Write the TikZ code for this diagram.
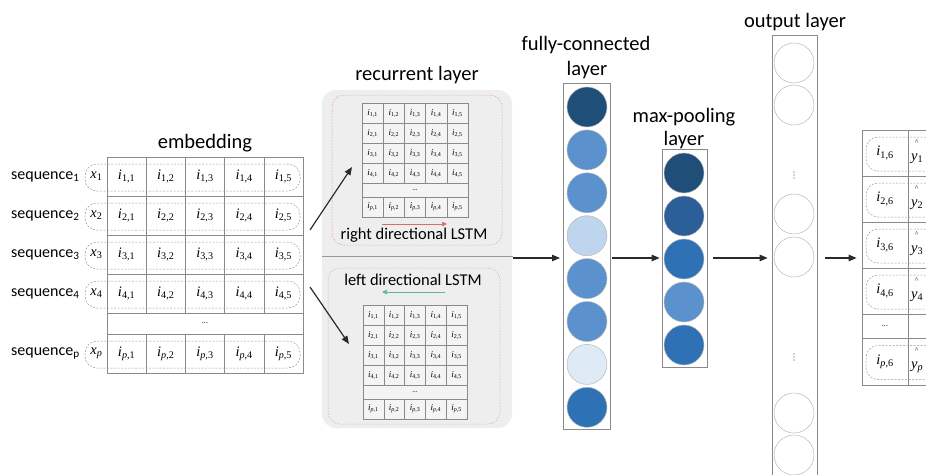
\documentclass[tikz,border=0pt]{standalone}
\usepackage{fontspec}
\setmainfont{Carlito}
\newfontfamily\tms{Liberation Serif}
\usetikzlibrary{arrows.meta}

\definecolor{gridline}{HTML}{8A8A8A}
\definecolor{dashline}{HTML}{9A9A9A}
\definecolor{panelfill}{HTML}{EEEEEE}
\definecolor{cellfill}{HTML}{F4F4F4}
\definecolor{fwdred}{HTML}{E06A6A}
\definecolor{bwdgreen}{HTML}{5FB98A}
\definecolor{arrowdark}{HTML}{2A2A2A}
\definecolor{bA}{HTML}{1F4E79}
\definecolor{bB}{HTML}{2B5F9A}
\definecolor{bC}{HTML}{2E72B5}
\definecolor{bD}{HTML}{5B91CC}
\definecolor{bE}{HTML}{BDD6EE}
\definecolor{bF}{HTML}{DEEAF5}

% italic Times-like labels
\newcommand\ilbl[2]{{\tms\textit{i}\textsubscript{#1,#2}}}
\newcommand\xlbl[1]{{\tms\textit{x}\textsubscript{#1}}}
\newcommand\ylbl[1]{{\tms\textit{y}\textsubscript{#1}}}

% one LSTM matrix: name, left x, top y, cell width
\newcommand\lstmgrid[4]{%
  \foreach \r in {1,2,3,4}{
    \foreach \c in {1,...,5}{
      \node[smallcell, minimum width=#4pt] (#1-\r-\c) at ({#2+(\c-0.5)*#4},{#3+(\r-0.5)*20}) {\ilbl{\r}{\c}};
    }
  }
  \node[smallcell, minimum width={5*#4pt}, minimum height=14pt] (#1-dots) at ({#2+2.5*#4},{#3+87}) {\fontsize{7}{7}\selectfont...};
  \foreach \c in {1,...,5}{
    \node[smallcell, minimum width=#4pt] (#1-p-\c) at ({#2+(\c-0.5)*#4},{#3+104}) {\ilbl{\textit{p}}{\c}};
  }
}

\begin{document}
\begin{tikzpicture}[x=1pt,y=-1pt,
  title/.style={font=\fontsize{20.5}{22}\selectfont, inner sep=0pt},
  seqlbl/.style={font=\fontsize{16}{18}\selectfont, anchor=west, inner sep=0pt},
  gridcell/.style={draw=gridline, line width=0.6pt, inner sep=0pt, minimum width=39.2pt, minimum height=39pt, font=\fontsize{14.5}{15}\selectfont},
  smallcell/.style={draw=gridline, line width=0.5pt, fill=cellfill, inner sep=0pt, minimum height=20pt, font=\fontsize{9}{9}\selectfont},
  pill/.style={draw=dashline, dashed, dash pattern=on 2pt off 1.5pt, line width=0.5pt, rounded corners=12pt, inner sep=0pt},
  xin/.style={inner sep=0pt, font=\fontsize{14.5}{15}\selectfont},
  panel/.style={fill=panelfill, rounded corners=14pt, inner sep=0pt},
  fwdbox/.style={draw=fwdred!70, dashed, dash pattern=on 1.5pt off 1.5pt, line width=0.5pt, rounded corners=12pt, inner sep=0pt},
  bwdbox/.style={draw=bwdgreen!70, dashed, dash pattern=on 1.5pt off 1.5pt, line width=0.5pt, rounded corners=12pt, inner sep=0pt},
  lstmlbl/.style={font=\fontsize{16.5}{18}\selectfont, inner sep=0pt},
  layerbox/.style={draw=gridline, line width=0.7pt, inner sep=0pt},
  unit/.style={circle, draw=gray!55, line width=0.5pt, minimum size=40pt, inner sep=0pt},
  flow/.style={draw=arrowdark, line width=1.2pt, -{Triangle[length=8pt,width=6.5pt]}},
  divider/.style={draw=gray!80, line width=1pt},
  outcell/.style={draw=gridline, line width=0.7pt, inner sep=0pt, font=\fontsize{14.5}{15}\selectfont},
  dotmark/.style={circle, fill=gray!70, inner sep=0pt, minimum size=1.6pt},
  caret/.style={inner sep=0pt, font=\tms\fontsize{7.5}{7.5}\selectfont},
  ylab/.style={inner sep=0pt, anchor=west, font=\fontsize{14.5}{15}\selectfont}
]
\useasboundingbox (0,0) rectangle (926,474);
\clip (0,0) rectangle (926,474);

% ---------------- embedding table ----------------
\node[title] (embtitle) at (205,143) {embedding};
\foreach \r/\rl/\yc in {1/1/176.5, 2/2/215.5, 3/3/254.5, 4/4/293.5, p/{\textit{p}}/353.5}{
  \node[pill, minimum width=215pt, minimum height=27pt] (pill-\r) at (192.5,\yc+1) {};
  \node[xin] (x-\r) at (96.5,\yc) {\xlbl{\rl}};
  \node[seqlbl] (seq-\r) at (11,\yc) {sequence\textsubscript{\r}};
  \foreach \c in {1,...,5}{
    \node[gridcell] (emb-\r-\c) at ({107+(\c-0.5)*39.2},\yc) {\ilbl{\rl}{\c}};
  }
}
\node[gridcell, minimum width=196pt, minimum height=21pt] (emb-dots) at (205,323.5) {\fontsize{8}{8}\selectfont...};

% ---------------- recurrent layer ----------------
\node[title] (rnntitle) at (417,75) {recurrent layer};
\node[panel, minimum width=190pt, minimum height=338pt] (rnn) at (417,259) {};
\node[fwdbox, minimum width=170pt, minimum height=150pt] (fwd) at (417,170) {};
\node[bwdbox, minimum width=172pt, minimum height=156pt] (bwd) at (414,346) {};
\coordinate (divL) at (322,256);
\coordinate (divR) at (513,256);
\draw[divider] (divL) -- (divR);

\lstmgrid{fg}{362}{103}{21.2}
\lstmgrid{bg}{363}{305}{20.8}

\node[lstmlbl] (fwdlbl) at (414,235) {right directional LSTM};
\node[lstmlbl] (bwdlbl) at (413,280) {left directional LSTM};
\coordinate (fwdA) at (382,224);
\coordinate (fwdB) at (447,224);
\draw[draw=fwdred, line width=0.6pt, -{Triangle[length=5pt,width=4.5pt]}] (fwdA) -- (fwdB);
\coordinate (bwdA) at (445,292);
\coordinate (bwdB) at (382,292);
\draw[draw=bwdgreen, line width=0.6pt, -{Triangle[length=5pt,width=4.5pt]}] (bwdA) -- (bwdB);

% embedding -> both directions
\coordinate (embup) at (310,230);
\coordinate (fwdin) at (352,167);
\coordinate (embdn) at (310,287);
\coordinate (bwdin) at (349,344);
\draw[flow] (embup) -- (fwdin);
\draw[flow] (embdn) -- (bwdin);

% ---------------- fully-connected layer ----------------
\node[title] (fctitle) at (586,45) {fully-connected};
\node[title] (fctitle2) at (587,70) {layer};
\node[layerbox, minimum width=47pt, minimum height=346pt] (fc) at (586.5,256) {};
\foreach \col [count=\k] in {bA,bD,bD,bE,bD,bD,bF,bC}{
  \node[unit, fill=\col] (fc-\k) at (587,{107+(\k-1)*42.9}) {};
}

% ---------------- max-pooling layer ----------------
\node[title] (mptitle) at (684,117) {max-pooling};
\node[title] (mptitle2) at (684,140) {layer};
\node[layerbox, minimum width=45pt, minimum height=218pt] (mp) at (684.5,258) {};
\foreach \col [count=\k] in {bA,bB,bC,bD,bC}{
  \node[unit, fill=\col] (mp-\k) at (684,{173+(\k-1)*43}) {};
}

% ---------------- output layer ----------------
\node[title] (outtitle) at (795,22) {output layer};
\node[layerbox, minimum width=45pt, minimum height=446pt] (out) at (794.5,258) {};
\foreach \yc [count=\k] in {63,105,214,257,413,455}{
  \node[unit, fill=white] (out-\k) at (794,\yc) {};
}
% vertical ellipses between the output units
\foreach \yc [count=\k] in {175,357}{
  \foreach \d in {-3,0,3}{
    \node[dotmark] (vd-\k-\d) at (794,\yc+\d) {};
  }
}

% ---------------- predictions ----------------
\foreach \r/\rl/\yc/\h in {1/1/153/46, 2/2/199/46, 3/3/245/46, 4/4/291/46, p/{\textit{p}}/361.5/47}{
  \node[outcell, minimum width=46pt, minimum height=\h pt] (tl-\r) at (885,\yc) {\ilbl{\rl}{6}};
  \node[outcell, minimum width=52pt, minimum height=\h pt] (tr-\r) at (934,\yc) {};
  \node[pill, minimum width=100pt, minimum height=34pt] (tp-\r) at (916,\yc+1) {};
  \node[caret] (hat-\r) at (916.5,\yc-11) {\textasciicircum};
  \node[ylab] (yh-\r) at (911,\yc+6) {\ylbl{\rl}};
}
\node[outcell, minimum width=46pt, minimum height=24pt] (tl-dots) at (885,326) {\fontsize{8}{8}\selectfont...};
\node[outcell, minimum width=52pt, minimum height=24pt] (tr-dots) at (934,326) {};

% ---------------- connectors between layers ----------------
\coordinate (fcin) at (563,258);
\coordinate (rnnout) at (513,258);
\draw[flow, shorten >=3pt] (rnnout) -- (fcin);
\draw[flow, shorten <=2pt, shorten >=2pt] (fc.east |- fcin) -- (mp.west |- fcin);
\draw[flow, shorten <=6pt, shorten >=4pt] (mp.east |- fcin) -- (out.west |- fcin);
\draw[flow, shorten <=8pt, shorten >=5pt] (out.east |- fcin) -- (tl-3.west |- fcin);
\end{tikzpicture}
\end{document}
